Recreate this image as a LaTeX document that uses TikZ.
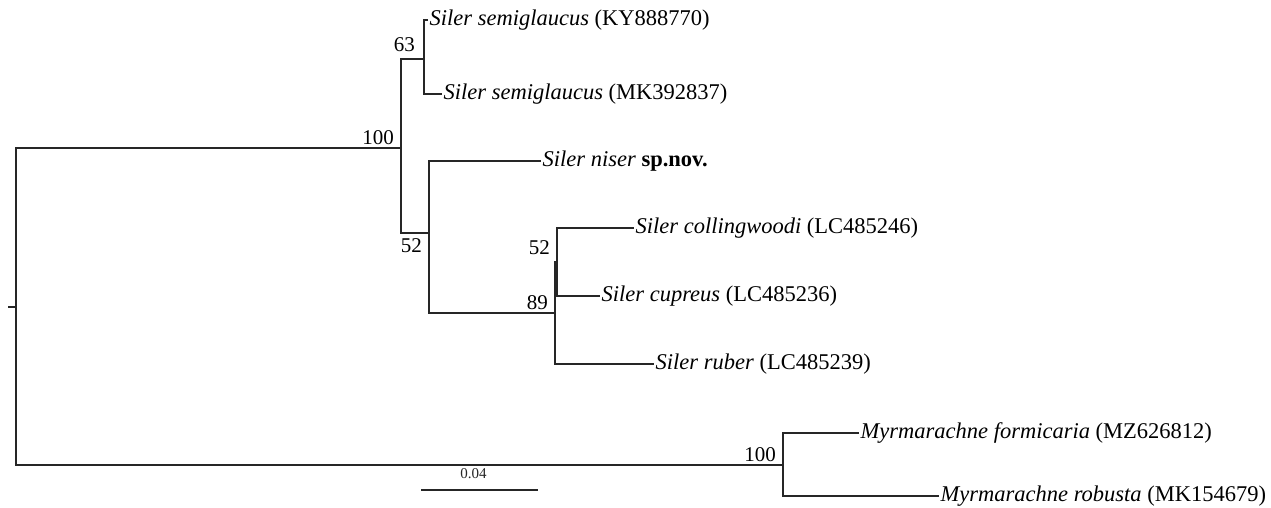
\documentclass[tikz,border=0pt]{standalone}
\usepackage{fontspec}
\setmainfont{Liberation Serif}
\begin{document}
\begin{tikzpicture}[x=1pt, y=-1pt,
    branch/.style={line width=2.2pt, black!85},
    taxon/.style={anchor=west, inner xsep=1.5pt, inner ysep=0pt, font=\fontsize{22.5}{26}\selectfont},
    boot/.style={anchor=south east, inner sep=0pt, xshift=-7pt, yshift=3pt, font=\fontsize{21}{24}\selectfont},
    bootlow/.style={anchor=north east, inner sep=0pt, xshift=-7pt, yshift=-5pt, font=\fontsize{21}{24}\selectfont}]
    % Khung ảnh
    \useasboundingbox (0, 0) rectangle (1271, 508);

    % 1. Các nút trong của cây
    \coordinate (stub) at (8, 307);
    \coordinate (root) at (16, 307);
    \coordinate (n100) at (401, 148);
    \coordinate (n63) at (424, 59);
    \coordinate (n52) at (429, 233);
    \coordinate (n89) at (555, 313);
    \coordinate (n52b) at (557, 262);
    \coordinate (nmyr) at (783, 465);

    % 2. Các lá (tên loài)
    \node[taxon] (semA) at (428, 20) {\textit{Siler semiglaucus} (KY888770)};
    \node[taxon] (semB) at (442, 94) {\textit{Siler semiglaucus} (MK392837)};
    \node[taxon] (niser) at (541, 161) {\textit{Siler niser} \textbf{sp.nov.}};
    \node[taxon] (coll) at (634, 228) {\textit{Siler collingwoodi} (LC485246)};
    \node[taxon] (cupr) at (600, 296) {\textit{Siler cupreus} (LC485236)};
    \node[taxon] (rub) at (654, 364) {\textit{Siler ruber} (LC485239)};
    \node[taxon] (form) at (859, 433) {\textit{Myrmarachne formicaria} (MZ626812)};
    \node[taxon] (robu) at (939, 496) {\textit{Myrmarachne robusta} (MK154679)};

    % 3. Các nhánh
    \draw[branch] (stub) -- (root);
    \draw[branch] (root) |- (n100);
    \draw[branch] (root) |- (nmyr);
    \draw[branch] (n100) |- (n63);
    \draw[branch] (n100) |- (n52);
    \draw[branch] (n63) |- (semA.west);
    \draw[branch] (n63) |- (semB.west);
    \draw[branch] (n52) |- (niser.west);
    \draw[branch] (n52) |- (n89);
    \draw[branch] (n89) |- (n52b);
    \draw[branch] (n89) |- (rub.west);
    \draw[branch] (n52b) |- (coll.west);
    \draw[branch] (n52b) |- (cupr.west);
    \draw[branch] (nmyr) |- (form.west);
    \draw[branch] (nmyr) |- (robu.west);

    % 4. Giá trị bootstrap
    \node[boot] (b100) at (n100) {100};
    \node[boot, xshift=-2pt, yshift=4pt] (b63) at (n63) {63};
    \node[bootlow] (b52) at (n52) {52};
    \node[boot, yshift=4pt] (b52b) at (n52b) {52};
    \node[boot] (b89) at (n89) {89};
    \node[boot] (bmyr) at (nmyr) {100};

    % 5. Thanh tỉ lệ
    \coordinate (barL) at (421, 490);
    \coordinate (barR) at (538, 490);
    \draw[branch, line width=1.8pt] (barL) -- (barR)
        node[midway, above, inner sep=0pt, yshift=10pt, xshift=-6pt, font=\fontsize{15}{17}\selectfont] (barlab) {0.04};

\end{tikzpicture}
\end{document}
